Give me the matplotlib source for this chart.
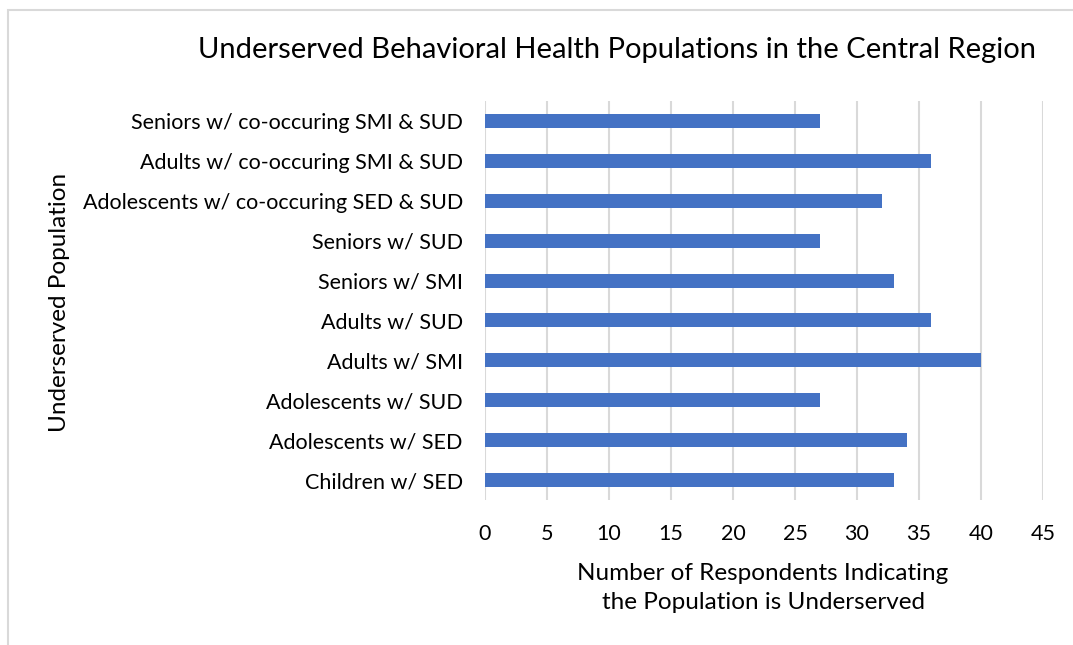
import matplotlib
matplotlib.use("Agg")
import matplotlib.pyplot as plt
from matplotlib.patches import Rectangle

populations = [
    "Children w/ SED",
    "Adolescents w/ SED",
    "Adolescents w/ SUD",
    "Adults w/ SMI",
    "Adults w/ SUD",
    "Seniors w/ SMI",
    "Seniors w/ SUD",
    "Adolescents w/ co-occuring SED & SUD",
    "Adults w/ co-occuring SMI & SUD",
    "Seniors w/ co-occuring SMI & SUD",
]
respondents = [33, 34, 27, 40, 36, 33, 27, 32, 36, 27]
xticks = [0, 5, 10, 15, 20, 25, 30, 35, 40, 45]

plt.rcParams["font.family"] = ["Lato", "DejaVu Sans"]

W, H = 1073, 645
fig = plt.figure(figsize=(W / 100, H / 100), dpi=100)
ax = fig.add_axes([485 / W, 1 - 500 / H, (1043 - 485) / W, (500 - 101) / H])

ax.barh(range(len(populations)), respondents, height=0.35, color="#4472c4", zorder=3)
ax.set_xlim(0, 45)
ax.set_ylim(-0.5, len(populations) - 0.5)
ax.set_xticks(xticks)
ax.set_yticks(range(len(populations)))
ax.set_yticklabels(populations)
ax.tick_params(axis="both", length=0, labelsize=15.5, colors="black")
ax.tick_params(axis="y", pad=16)
ax.tick_params(axis="x", pad=17)
ax.grid(axis="x", color="#d9d9d9", linewidth=1.5, zorder=0)
for s in ax.spines.values():
    s.set_visible(False)

fig.text(617 / W, 1 - 50 / H, "Underserved Behavioral Health Populations in the Central Region",
         ha="center", va="center", fontsize=21)
fig.text(763 / W, 1 - 588 / H, "Number of Respondents Indicating\nthe Population is Underserved",
         ha="center", va="center", fontsize=17.5, linespacing=1.5)
fig.text(60 / W, 1 - 302 / H, "Underserved Population", ha="center", va="center",
         rotation=90, fontsize=17.5)

# chart area outline
fig.patches.append(Rectangle((8 / W, -0.1), 1.2, 1 - 10 / H + 0.1, transform=fig.transFigure,
                             fill=False, edgecolor="#d9d9d9", linewidth=1.5))

fig.savefig("out.png", dpi=100)
